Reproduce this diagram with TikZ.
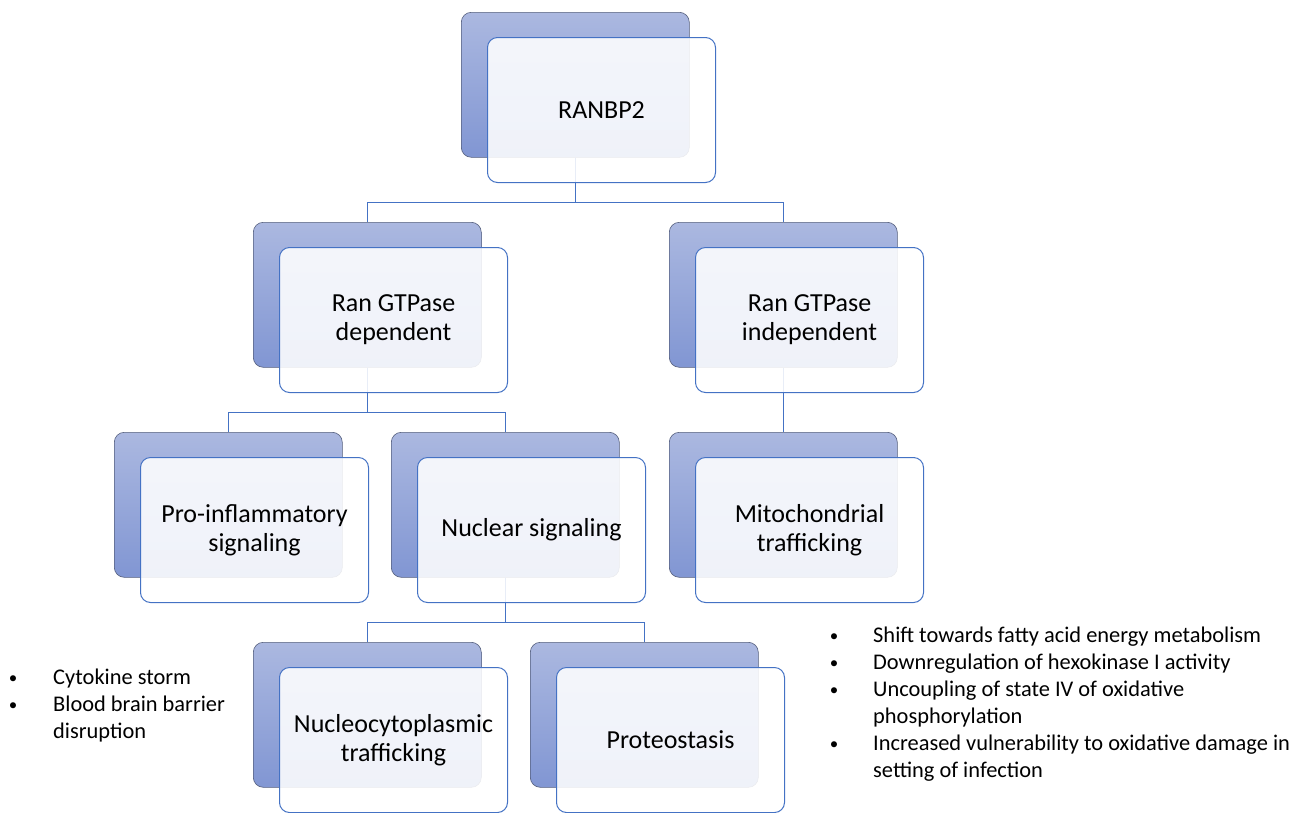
\documentclass[tikz,border=0pt]{standalone}
\usepackage{fontspec}
\setmainfont{Carlito}
\pgfdeclarelayer{bg}
\pgfsetlayers{bg,main}
\definecolor{linkblue}{HTML}{4472C4}
\definecolor{backtop}{HTML}{ABB8E0}
\definecolor{backbot}{HTML}{8196D3}
\definecolor{backedge}{HTML}{545E7C}
\tikzset{
  backbox/.style={rectangle, rounded corners=10pt, minimum width=228pt, minimum height=145pt,
    top color=backtop, bottom color=backbot, draw=backedge, line width=0.6pt, inner sep=0pt},
  frontbox/.style={rectangle, rounded corners=10pt, minimum width=228pt, minimum height=145pt,
    fill=white, fill opacity=0.88, text opacity=1, draw=linkblue, line width=1pt,
    font=\fontsize{26}{29}\selectfont, align=center, inner sep=0pt},
  link/.style={draw=linkblue, line width=1.1pt},
  bulletdot/.style={font=\fontsize{17}{27}\selectfont, anchor=base, inner sep=0pt},
  itemtext/.style={font=\fontsize{22.4}{27}\selectfont, anchor=base west, inner sep=0pt},
}
\newcommand{\tierbox}[4]{%
  \node[backbox, anchor=north west] (#1-back) at (#2,#3) {};
  \node[frontbox, anchor=north west] (#1) at (#2+26,#3+25) {#4};}
\begin{document}
\begin{tikzpicture}[x=1pt,y=-1pt]
\useasboundingbox (0,0) rectangle (1304,812);
\tierbox{ranbp2}{461}{12}{RANBP2}
\tierbox{dep}{253}{222}{Ran GTPase\\dependent}
\tierbox{indep}{669}{222}{Ran GTPase\\independent}
\tierbox{pro}{114}{432}{Pro-inflammatory\\signaling}
\tierbox{nuc}{391}{432}{Nuclear signaling}
\tierbox{mito}{669}{432}{Mitochondrial\\trafficking}
\tierbox{ncyto}{253}{642}{Nucleocytoplasmic\\trafficking}
\tierbox{prot}{530}{642}{Proteostasis}
\begin{pgfonlayer}{bg}
\draw[link] (ranbp2-back.south) -- ++(0,45) -| (dep-back.north);
\draw[link] (ranbp2-back.south) -- ++(0,45) -| (indep-back.north);
\draw[link] (dep-back.south) -- ++(0,45) -| (pro-back.north);
\draw[link] (dep-back.south) -- ++(0,45) -| (nuc-back.north);
\draw[link] (indep-back.south) -- (mito-back.north);
\draw[link] (nuc-back.south) -- ++(0,45) -| (ncyto-back.north);
\draw[link] (nuc-back.south) -- ++(0,45) -| (prot-back.north);
\end{pgfonlayer}
% left list
\node[bulletdot] (lb1) at (13,683) {\textbullet};
\node[itemtext] (lt1) at (53,684) {Cytokine storm};
\node[bulletdot] (lb2) at (13,710) {\textbullet};
\node[itemtext] (lt2) at (53,711) {Blood brain barrier};
\node[itemtext] (lt3) at (53,738) {disruption};
% right list
\node[bulletdot] (rb1) at (834,641) {\textbullet};
\node[itemtext] (rt1) at (873,642) {Shift towards fatty acid energy metabolism};
\node[bulletdot] (rb2) at (834,668) {\textbullet};
\node[itemtext] (rt2) at (873,669) {Downregulation of hexokinase I activity};
\node[bulletdot] (rb3) at (834,695) {\textbullet};
\node[itemtext] (rt3) at (873,696) {Uncoupling of state IV of oxidative};
\node[itemtext] (rt4) at (873,723) {phosphorylation};
\node[bulletdot] (rb4) at (834,749) {\textbullet};
\node[itemtext] (rt5) at (873,750) {Increased vulnerability to oxidative damage in};
\node[itemtext] (rt6) at (873,777) {setting of infection};
\end{tikzpicture}
\end{document}
